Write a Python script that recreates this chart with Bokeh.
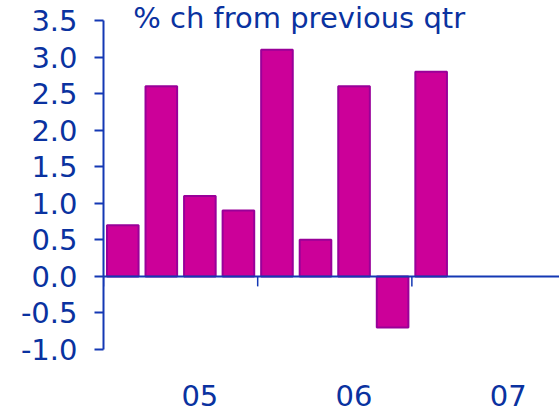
from bokeh.plotting import figure
from bokeh.models import LinearAxis, FixedTicker, Range1d, CustomJSTickFormatter, Span
from bokeh.core.properties import value
from bokeh.embed import file_html
from bokeh.resources import INLINE

# data
quarters = ["05Q1", "05Q2", "05Q3", "05Q4", "06Q1", "06Q2", "06Q3", "06Q4", "07Q1"]
values = [0.7, 2.6, 1.1, 0.9, 3.1, 0.5, 2.6, -0.7, 2.8]
year_labels = ["05", "06", "07"]
year_label_pos = [2.5, 6.5, 10.5]
year_tick_pos = [0, 4, 8]
y_ticks = [-1.0, -0.5, 0.0, 0.5, 1.0, 1.5, 2.0, 2.5, 3.0, 3.5]
title_text = "% ch from previous qtr"

TEXT = "#0a32a0"
LINE = "#1438b4"
FONT = "DejaVu Sans"

# layout (pixels per y unit, for placing texts outside the value axis span)
PX = 73.11
Y_MIN, Y_MAX = y_ticks[0], y_ticks[-1]
y_lo = Y_MIN - 64 / PX
y_hi = Y_MAX + 20 / PX

xpos = [i + 0.5 for i in range(len(values))]

p = figure(width=559, height=413, output_backend="svg", toolbar_location=None,
           x_range=Range1d(0, 11.83), y_range=Range1d(y_lo, y_hi),
           x_axis_location=None, y_axis_location=None,
           min_border_left=103, min_border_right=0, min_border_top=0, min_border_bottom=0)
p.grid.visible = False
p.outline_line_color = None
p.background_fill_color = "white"
p.border_fill_color = "white"

p.vbar(x=xpos, top=values, bottom=0, width=0.82,
       fill_color="#cc0099", line_color="#990099", line_width=2)

# y axis
yax = LinearAxis(ticker=FixedTicker(ticks=y_ticks), bounds=(Y_MIN, Y_MAX),
                 formatter=CustomJSTickFormatter(code="return tick.toFixed(1)"))
yax.axis_line_color = LINE
yax.axis_line_width = 2
yax.major_tick_line_color = LINE
yax.major_tick_line_width = 2
yax.major_tick_out = 9
yax.major_tick_in = 0
yax.minor_tick_line_color = None
yax.major_label_text_font = FONT
yax.major_label_text_font_size = "29px"
yax.major_label_text_color = TEXT
yax.major_label_standoff = 17
p.add_layout(yax, "left")

# zero line with year ticks
p.add_layout(Span(location=0, dimension="width", line_color=LINE, line_width=2))
p.segment(x0=year_tick_pos, y0=[0] * len(year_tick_pos),
          x1=year_tick_pos, y1=[-10 / PX] * len(year_tick_pos),
          line_color=LINE, line_width=1.5)

# year labels
p.text(x=year_label_pos, y=[Y_MIN - 46 / PX] * len(year_label_pos), text=year_labels,
       text_font=value(FONT), text_font_size="29px", text_color=TEXT,
       text_align="center", text_baseline="middle")

# title
p.text(x=[0.77], y=[Y_MAX + 3 / PX], text=[title_text],
       text_font=value(FONT), text_font_size="29px", text_color=TEXT,
       text_align="left", text_baseline="middle")

open("out.html", "w").write(file_html(p, INLINE))
